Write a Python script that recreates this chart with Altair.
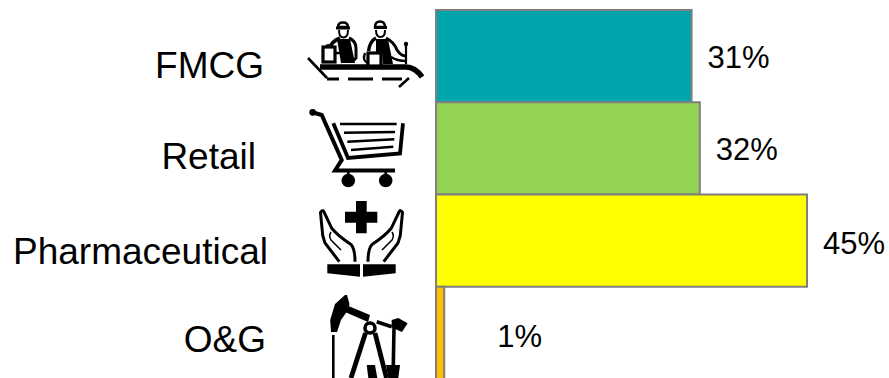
import base64
import altair as alt
import pandas as pd

# Sector shares
sectors = ["FMCG", "Retail", "Pharmaceutical", "O&G"]
shares = [31, 32, 45, 1]
share_labels = ["31%", "32%", "45%", "1%"]
bar_colors = ["#00A5AE", "#92D351", "#FFFF00", "#FFC000"]

# Per-row text placement: label right edge, label dy, share dx, share dy
label_right = [264, 256, 268, 266]
label_dy = [22, 21, 23, 19]
share_dx = [16, 16, 16, 53]
share_dy = [12, 12, 13, 14]

WIDTH, HEIGHT = 889, 378
BAND_TOP, BAND_BOTTOM = 10, 379
ICON_W = 130
BAND = (BAND_BOTTOM - BAND_TOP) / len(sectors)

# Pictograms, drawn in the chart's pixel space and shown through a per-row viewBox
WORKERS = """
<g fill="none" stroke="#000" stroke-linecap="butt">
<path d="M308,58 L327,78" stroke-width="2.6"/>
<path d="M327,79 H339 M348,79 H373 M382,79 H402" stroke-width="2.8"/>
<path d="M409,78 L399,87" stroke-width="2.6"/>
<path d="M320,67 H406 Q415,67 422,77" stroke-width="5.6"/>
<path d="M338,27 Q338,22.5 343,22.5 Q348,22.5 348,27 Z" fill="#fff" stroke-width="2.4"/>
<path d="M336,28 H350" stroke-width="3"/>
<path d="M339,30 Q339,37.5 343.5,37.5 Q348,37.5 348,30" stroke-width="2"/>
<path d="M337,39 H350 L355,63 H341 Z" fill="#000" stroke="none"/>
<path d="M340,38 Q332,41 329,49" stroke-width="3.8"/>
<path d="M349,38 Q356,41 356,48 L356,58 Q352,64 342,58" stroke-width="3"/>
<path d="M325.5,47 Q328,43 331,47" stroke-width="2"/>
<rect x="323" y="47" width="12" height="15" fill="#fff" stroke-width="3.2"/>
<path d="M335,53 H341" stroke-width="2.4"/>
<path d="M375,27 Q375,21.5 380,21.5 Q385,21.5 385,27 Z" fill="#fff" stroke-width="2.4"/>
<path d="M374,27.5 H387" stroke-width="3"/>
<path d="M376,30 Q376,37 380.5,37 Q385,37 385,30" stroke-width="2"/>
<path d="M376,39 H388 L393,64 H383 L382,52 H376 Z" fill="#000" stroke="none"/>
<path d="M376,38 Q370,41 368.5,51" stroke-width="3.4"/>
<path d="M386,38 Q394,42 397,50 Q401,56 406,56" stroke-width="3"/>
<path d="M391,57 Q397,61 406,61" stroke-width="2.4"/>
<circle cx="406" cy="44" r="2.2" fill="#000" stroke="none"/>
<path d="M406,44 V64" stroke-width="2.2"/>
<path d="M365,53 Q362,61 368,63" stroke-width="2.4"/>
<rect x="368" y="53" width="13" height="13" fill="#fff" stroke-width="3.2"/>
</g>"""

CART = """
<g fill="none" stroke="#000">
<circle cx="312.7" cy="112.3" r="3.4" fill="#000" stroke="none"/>
<path d="M313,112.5 L321.7,115 L341.7,160 L335,170.5 H395" stroke-width="4"/>
<path d="M333.3,123.3 L348,158 L400,153.5 L403,123.3" stroke-width="3.8"/>
<path d="M340,124 H396.7" stroke-width="2.5"/>
<path d="M344,132.7 L395,132" stroke-width="2.5"/>
<path d="M347.3,141.7 L394.3,139.3" stroke-width="2.5"/>
<path d="M351,150 L393.3,146.7" stroke-width="2.5"/>
<path d="M348.3,170 V176 M385.7,170 V176" stroke-width="2.5"/>
<circle cx="348.3" cy="180.5" r="6.8" fill="#000" stroke="none"/>
<circle cx="385.7" cy="180.5" r="6.8" fill="#000" stroke="none"/>
</g>"""

HAND = """
<path d="M339.3,261.7 L325,243 Q322,236 322,228 L320.5,212.5 Q322.5,209 324,212 L331.7,228.3 Q338,236 351,244.5 Q355,249 355,261.7" fill="none" stroke="#000" stroke-width="3"/>
<path d="M331,232 Q328.5,236 331,240 L341,250" fill="none" stroke="#000" stroke-width="1.5"/>
<path d="M327.3,264.3 H360 V276.7 L327.3,273.3 Z" fill="#000"/>"""

HANDS = f"""
<path d="M356,201 H366.7 V211.7 H377.3 V222.7 H366.7 V233.3 H356 V222.7 H345 V211.7 H356 Z" fill="#000"/>
{HAND}
<g transform="translate(723,0) scale(-1,1)">{HAND}</g>"""

PUMP = """
<g fill="none" stroke="#000">
<path d="M345,295 L335,304 L330.2,320 L331,332 L337,332 L341,320 L348,310 L349.5,304 L347,295 Z" fill="#000" stroke="none"/>
<path d="M346,305 L370,315 L368,322 L345,312 Z" fill="#000" stroke="none"/>
<path d="M333.3,335 V378" stroke-width="2.6"/>
<circle cx="370" cy="328" r="5" stroke-width="3.6"/>
<path d="M365.5,333 L351,378 M375,333 L386.5,378" stroke-width="4.8"/>
<path d="M376.7,321.7 L391.7,326.7" stroke-width="3.6"/>
<path d="M391.7,320 L398.3,318 L407.6,323.3 L402,332 L391.7,327.5 Z" fill="#000" stroke="none"/>
<path d="M394,328 L393.3,365" stroke-width="3.6"/>
<path d="M366.7,365 H375 L377.3,378 H368.3 Z" fill="#000" stroke="none"/>
<path d="M386,365 H400 L398.3,378 H388.3 Z" fill="#000" stroke="none"/>
</g>"""

icon_bodies = [WORKERS, CART, HANDS, PUMP]


def icon_uri(body, row):
    top = BAND_TOP + BAND * row
    svg = (
        f'<svg xmlns="http://www.w3.org/2000/svg" width="{ICON_W}" height="{BAND}" '
        f'viewBox="300 {top} {ICON_W} {BAND}">{body}</svg>'
    )
    return "data:image/svg+xml;base64," + base64.b64encode(svg.encode()).decode()


table = pd.DataFrame(
    {
        "sector": sectors,
        "share": shares,
        "share_label": share_labels,
        "color": bar_colors,
        "icon": [icon_uri(b, i) for i, b in enumerate(icon_bodies)],
    }
)

x_scale = alt.Scale(domain=[0, 45], range=[436, 807], nice=False, zero=False)
y_scale = alt.Scale(
    domain=sectors, range=[BAND_TOP, BAND_BOTTOM], paddingInner=0, paddingOuter=0
)
y_enc = alt.Y("sector:N", scale=y_scale, axis=None, sort=None)

bars = (
    alt.Chart(table)
    .mark_bar(stroke="#7F7F7F", strokeWidth=2)
    .encode(
        x=alt.X("share:Q", scale=x_scale, axis=None),
        x2=alt.datum(0),
        y=y_enc,
        fill=alt.Fill("color:N", scale=None),
    )
)

icons = (
    alt.Chart(table)
    .mark_image(width=ICON_W, height=BAND)
    .encode(x=alt.value(300 + ICON_W / 2), y=y_enc, url="icon:N")
)

layers = [icons, bars]
for i, sector in enumerate(sectors):
    row = alt.Chart(table).transform_filter(alt.datum.sector == sector)
    layers.append(
        row.mark_text(
            font="Liberation Sans",
            fontSize=37,
            color="#000000",
            align="right",
            baseline="alphabetic",
            dy=label_dy[i],
        ).encode(x=alt.value(label_right[i]), y=y_enc, text="sector:N")
    )
    layers.append(
        row.mark_text(
            font="Liberation Sans",
            fontSize=31,
            color="#000000",
            align="left",
            baseline="alphabetic",
            dx=share_dx[i],
            dy=share_dy[i],
        ).encode(
            x=alt.X("share:Q", scale=x_scale, axis=None),
            y=y_enc,
            text="share_label:N",
        )
    )

chart = (
    alt.layer(*layers)
    .properties(
        width=WIDTH,
        height=HEIGHT,
        padding=0,
        autosize=alt.AutoSizeParams(type="none"),
        background="#FFFFFF",
    )
    .configure_view(stroke=None)
)

chart.save("out.html", embed_options={"renderer": "svg", "actions": False})
